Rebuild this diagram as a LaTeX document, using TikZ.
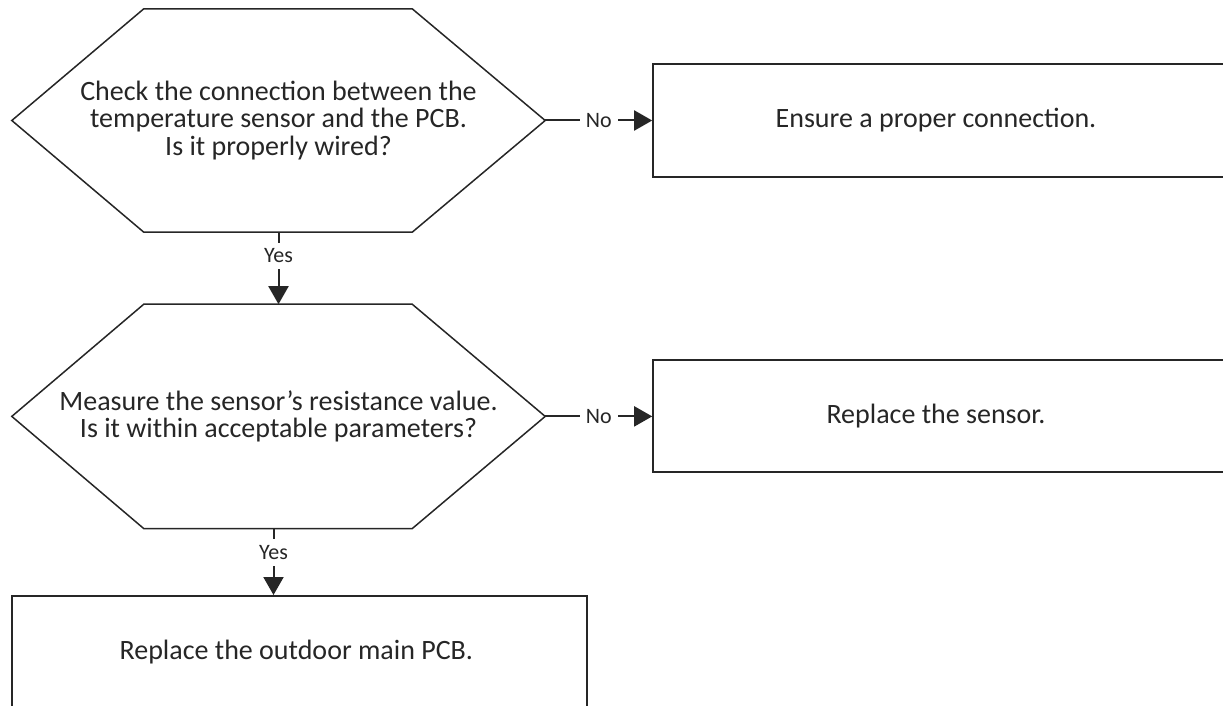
\documentclass[tikz,border=0pt]{standalone}
\usepackage{fontspec}
\setmainfont{Carlito}
\usepackage{tikz}
\usetikzlibrary{arrows.meta,positioning,calc}

\begin{document}
\begin{tikzpicture}[
    x=1pt, y=1pt,
    node distance=107pt,
    every node/.style={font=\fontsize{28}{27.5}\selectfont, text=black!85},
    decision/.style={
        align=center,
        inner sep=0pt,
        minimum width=533pt,
        minimum height=223pt
    },
    hexline/.style={
        draw=black!85,
        line width=1.5pt,
        line join=miter
    },
    action/.style={
        draw=black!85,
        line width=2pt,
        align=center,
        minimum width=574pt,
        minimum height=112pt
    },
    relation/.style={
        -{Triangle[length=18pt,width=20pt]},
        line width=2pt,
        draw=black!85
    },
    answer/.style={
        fill=white,
        inner sep=6pt,
        font=\fontsize{22}{22}\selectfont
    }
]

\useasboundingbox (0,0) rectangle (1223,-706);

% ==========================================================
% FIRST CHECK: WIRING
% ==========================================================

\node[decision] (wiring) at (278.5,-120.5)
{
Check the connection between the\\
temperature sensor and the PCB.\\
Is it properly wired?
};

\draw[hexline]
(wiring.west) -- ([xshift=132pt]wiring.north west)
-- ([xshift=-133pt]wiring.north east) -- (wiring.east)
-- ([xshift=-133pt]wiring.south east)
-- ([xshift=132pt]wiring.south west) -- cycle;

\node[
    action,
    right=of wiring
] (connect)
{
Ensure a proper connection.
};

% ==========================================================
% SECOND CHECK: RESISTANCE
% ==========================================================

\node[
    decision,
    minimum height=224pt,
    below=72pt of wiring
] (resist)
{
Measure the sensor’s resistance value.\\
Is it within acceptable parameters?
};

\draw[hexline]
(resist.west) -- ([xshift=132pt]resist.north west)
-- ([xshift=-133pt]resist.north east) -- (resist.east)
-- ([xshift=-133pt]resist.south east)
-- ([xshift=132pt]resist.south west) -- cycle;

\node[
    action,
    right=of resist
] (sensor)
{
Replace the sensor.
};

% ==========================================================
% LAST STEP
% ==========================================================

\node[
    action,
    minimum width=575pt
] (pcb) at (299.5,-652)
{
Replace the outdoor main PCB.
};

% ==========================================================
% CONNECTORS
% ==========================================================

\draw[relation]
(wiring.east) --
node[answer] {No}
(connect.west);

\draw[relation]
(wiring.south) --
node[answer, pos=0.33] {Yes}
(resist.north);

\draw[relation]
(resist.east) --
node[answer] {No}
(sensor.west);

\draw[relation]
([xshift=-5pt]resist.south) --
node[answer, pos=0.36] {Yes}
([xshift=-5pt]resist.south |- pcb.north);

\end{tikzpicture}
\end{document}
